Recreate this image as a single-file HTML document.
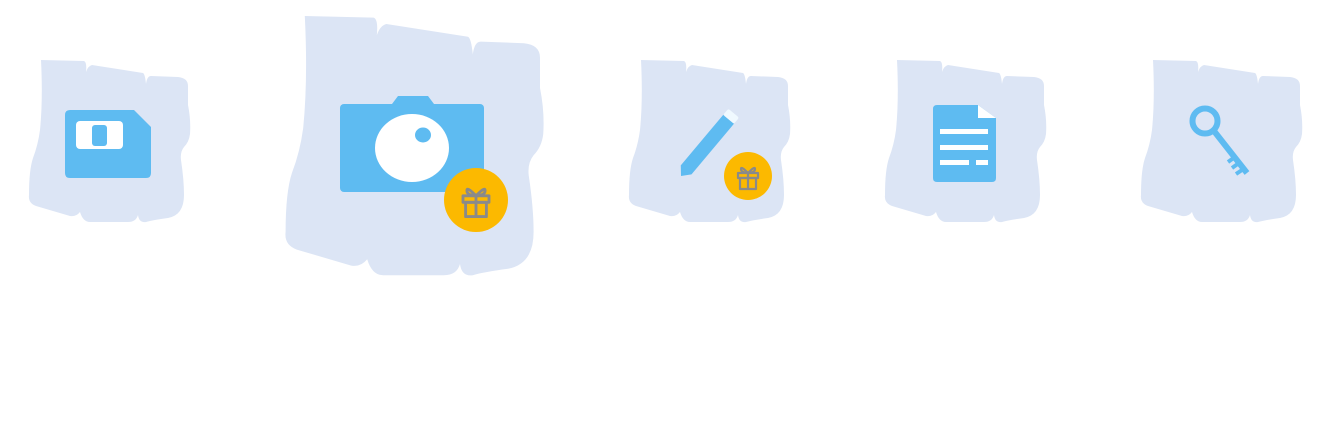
<!DOCTYPE html>
<html><head><meta charset="utf-8">
<style>html,body{margin:0;padding:0;background:#fff;width:1324px;height:430px;overflow:hidden}</style>
</head><body>
<svg width="1324" height="430" viewBox="0 0 1324 430" xmlns="http://www.w3.org/2000/svg">
<defs>
<path id="blob" d="M13,0 L56,1 Q59,2 58,12 Q60,6 64,5 L115,13 Q117,14 118,24 Q119,16 123,16 L150,17 Q160,18 160,26 L160,45 Q163,60 162,74 Q161,82 156,87 Q152,92 153,100 Q156,120 156,135 Q156,155 140,158 Q125,160 118,162 Q111,163 110,155 Q108,162 100,162 L62,162 Q55,162 52,152 Q48,157 42,156 L8,146 Q0,143 1,135 Q1,110 5,98 Q10,85 12,70 Q15,40 13,0 Z" fill="#dce5f5"/>
<g id="gift" fill="none" stroke="#8a8a8a" stroke-width="2.2" stroke-linejoin="round">
<rect x="-10" y="-4" width="20" height="5"/>
<rect x="-8" y="1" width="16" height="11"/>
<line x1="0" y1="-4" x2="0" y2="12"/>
<path d="M0,-4 C-3,-7 -7,-11 -7,-8 C-7,-5 -3,-4 0,-4 C3,-4 7,-5 7,-8 C7,-11 3,-7 0,-4"/>
</g>
</defs>

<g>
<use href="#blob" transform="translate(28,60)"/>
<path d="M70,110 L134,110 L151,127 L151,173 Q151,178 146,178 L70,178 Q65,178 65,173 L65,115 Q65,110 70,110 Z" fill="#5ebbf1"/>
<rect x="76" y="121" width="47" height="28" rx="4" fill="#fff"/>
<rect x="92" y="125" width="15" height="21" rx="3" fill="#5ebbf1"/>
</g>

<g>
<use href="#blob" transform="translate(284,16) scale(1.6)"/>
<path d="M398,96 L428,96 L434,104 L392,104 Z" fill="#5ebbf1"/>
<rect x="340" y="104" width="144" height="88" rx="4" fill="#5ebbf1"/>
<ellipse cx="412" cy="148" rx="37" ry="34" fill="#fff"/>
<ellipse cx="423" cy="135" rx="8" ry="7.5" fill="#5ebbf1"/>
<g>
<circle cx="476" cy="200" r="32" fill="#fcb900"/>
<use href="#gift" transform="translate(476,201) scale(1.3)"/>
</g>
</g>

<g>
<use href="#blob" transform="translate(628,60)"/>
<g transform="translate(681,176) rotate(-50)">
<path d="M0,0 L8,-7 L74,-7 L74,7 L8,7 Z" fill="#5ebbf1"/>
<rect x="74" y="-7" width="8" height="14" rx="2" fill="#f0f9ff"/>
</g>
<g>
<circle cx="748" cy="176" r="24" fill="#fcb900"/>
<use href="#gift" transform="translate(748,177)"/>
</g>
</g>

<g>
<use href="#blob" transform="translate(884,60)"/>
<path d="M937,105 L978,105 L996,118 L996,178 Q996,182 992,182 L937,182 Q933,182 933,178 L933,109 Q933,105 937,105 Z" fill="#5ebbf1"/>
<path d="M978,105 L996,118 L978,118 Z" fill="#fff"/>
<rect x="940" y="129" width="48" height="5" fill="#fff"/>
<rect x="940" y="145" width="48" height="5" fill="#fff"/>
<rect x="940" y="160" width="29" height="5" fill="#fff"/>
<rect x="976" y="160" width="12" height="5" fill="#fff"/>
</g>

<g>
<use href="#blob" transform="translate(1140,60)"/>
<g fill="none" stroke="#5ebbf1">
<circle cx="1205" cy="121" r="12.5" stroke-width="6"/>
<line x1="1214" y1="131" x2="1247" y2="173" stroke-width="6"/>
<line x1="1228" y1="162" x2="1235" y2="157" stroke-width="4"/>
<line x1="1232" y1="168" x2="1239" y2="163" stroke-width="4"/>
<line x1="1236" y1="174" x2="1245" y2="168" stroke-width="4"/>
</g>
</g>
</svg>
</body></html>
